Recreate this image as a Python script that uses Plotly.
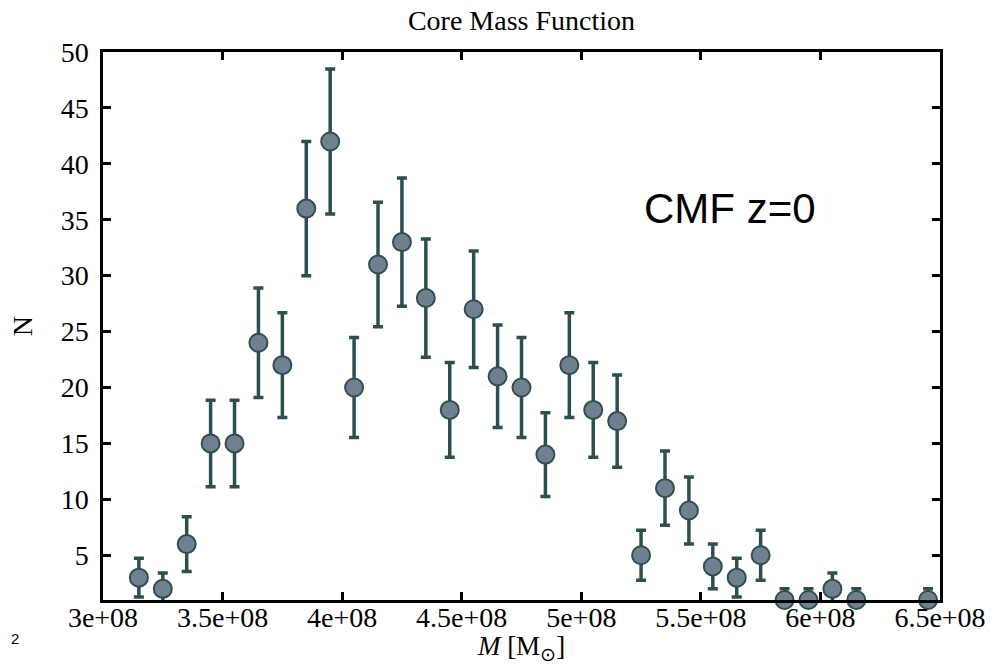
import plotly.graph_objects as go

# Bin centres of core mass (M_sun)
mass = [3.15e8, 3.25e8, 3.35e8, 3.45e8, 3.55e8, 3.65e8, 3.75e8, 3.85e8, 3.95e8,
        4.05e8, 4.15e8, 4.25e8, 4.35e8, 4.45e8, 4.55e8, 4.65e8, 4.75e8, 4.85e8,
        4.95e8, 5.05e8, 5.15e8, 5.25e8, 5.35e8, 5.45e8, 5.55e8, 5.65e8, 5.75e8,
        5.85e8, 5.95e8, 6.05e8, 6.15e8, 6.45e8]
counts = [3, 2, 6, 15, 15, 24, 22, 36, 42,
          20, 31, 33, 28, 18, 27, 21, 20, 14,
          22, 18, 17, 5, 11, 9, 4, 3, 5,
          1, 1, 2, 1, 1]
errors = [1.73, 1.41, 2.45, 3.87, 3.87, 4.9, 4.69, 6.0, 6.48,
          4.47, 5.57, 5.74, 5.29, 4.24, 5.2, 4.58, 4.47, 3.74,
          4.69, 4.24, 4.12, 2.24, 3.32, 3.0, 2.0, 1.73, 2.24,
          1.0, 1.0, 1.41, 1.0, 1.0]

x_tickvals = [3e8, 3.5e8, 4e8, 4.5e8, 5e8, 5.5e8, 6e8, 6.5e8]
x_ticktext = ["3e+08", "3.5e+08", "4e+08", "4.5e+08", "5e+08", "5.5e+08", "6e+08", "6.5e+08"]
y_tickvals = [5, 10, 15, 20, 25, 30, 35, 40, 45, 50]

serif = "Liberation Serif, Times New Roman, serif"
sans = "Liberation Sans, Arial, sans-serif"
edge = "#2F4F4F"

fig = go.Figure()
fig.add_trace(go.Scatter(
    x=mass, y=counts, mode="markers",
    marker=dict(size=18, color="#708090", line=dict(color=edge, width=2)),
    error_y=dict(type="data", array=errors, visible=True, color=edge, thickness=3.5, width=5),
    cliponaxis=False, showlegend=False,
))

fig.update_layout(
    width=996, height=665,
    margin=dict(l=103, r=56, t=52, b=65, autoexpand=False),
    paper_bgcolor="white", plot_bgcolor="white",
    font=dict(family=serif, size=28, color="black"),
    title=dict(text="Core Mass Function", xref="paper", x=0.5, xanchor="center",
               y=0.970, yanchor="middle",
               font=dict(family=serif, size=28, color="black")),
    xaxis=dict(range=[3e8, 6.5e8], tickvals=x_tickvals, ticktext=x_ticktext,
               ticks="inside", ticklen=8, tickwidth=2.5, tickcolor="black",
               showline=True, linewidth=2.5, linecolor="black", mirror="ticks",
               showgrid=False, zeroline=False, automargin=False,
               ticklabelstandoff=-9,
               tickfont=dict(family=serif, size=28),
               title=dict(text="<i>M</i> [M<sub>⊙</sub>]", standoff=18,
                          font=dict(family=serif, size=27))),
    yaxis=dict(range=[1, 50], tickvals=y_tickvals,
               ticks="inside", ticklen=8, tickwidth=2.5, tickcolor="black",
               showline=True, linewidth=2.5, linecolor="black", mirror="ticks",
               showgrid=False, zeroline=False, ticklabelstandoff=6, automargin=False,
               tickfont=dict(family=serif, size=28),
               title=dict(text="N", standoff=20, font=dict(family=serif, size=28))),
    annotations=[
        dict(text="CMF z=0", x=(730 - 103) / 837, y=(600 - 209) / 548,
             xref="paper", yref="paper",
             xanchor="center", yanchor="middle", showarrow=False,
             font=dict(family=sans, size=42, color="black")),
        dict(text="2", x=(15 - 103) / 837, y=(600 - 638) / 548,
             xref="paper", yref="paper", showarrow=False,
             xanchor="center", yanchor="middle",
             font=dict(family=sans, size=15, color="black")),
    ],
)

fig.write_html("out.html")
